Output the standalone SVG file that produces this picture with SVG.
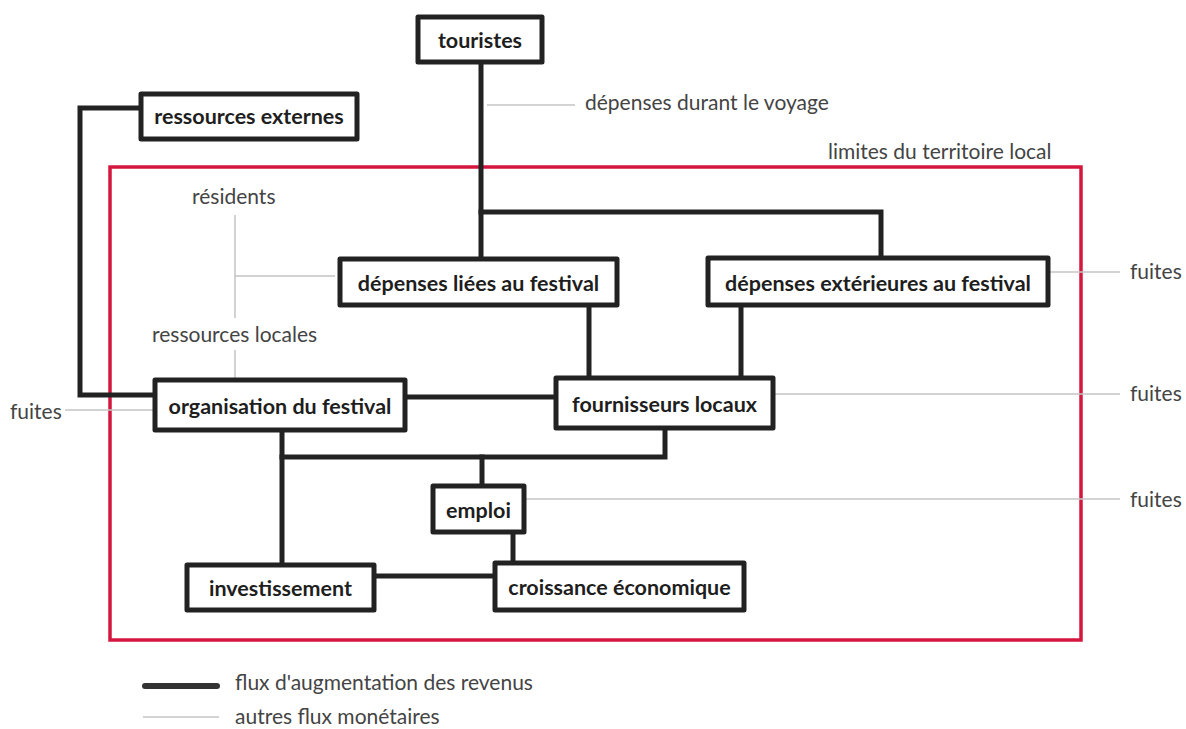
<svg xmlns="http://www.w3.org/2000/svg" width="1186" height="729" viewBox="0 0 1186 729">
<style>
.box{fill:#fff;stroke:#222;stroke-width:5;stroke-linejoin:round}
.lbl{font-family:Lato,"Open Sans",sans-serif;font-weight:bold;font-size:21.5px;fill:#1e1e1e;text-anchor:middle;dominant-baseline:central}
.txt{font-family:Lato,"Open Sans",sans-serif;font-size:21px;fill:#444}
.thick{fill:none;stroke:#222;stroke-width:5;stroke-linejoin:miter;stroke-linecap:square}
.thin{fill:none;stroke:#c4c4c4;stroke-width:1.5}
</style>
<rect x="0" y="0" width="1186" height="729" fill="#fff"/>
<rect id="territoire" x="110" y="167" width="971" height="473" fill="none" stroke="#d5173f" stroke-width="3.5"/>
<text class="txt" x="828" y="159">limites du territoire local</text>
<g id="connectors">
<path class="thin" d="M487 105 H575"/>
<path class="thin" d="M235 215 V318 M235 350 V380 M235 276 H335"/>
<path class="thin" d="M1048 272 H1120"/>
<path class="thin" d="M773 394 H1120"/>
<path class="thin" d="M65 410 H155"/>
<path class="thin" d="M524 499 H1120"/>
<path class="thick" d="M481 62 V259"/>
<path class="thick" d="M481 212 H881 V258"/>
<path class="thick" d="M141 108 H80 V395 H155"/>
<path class="thick" d="M405 397 H556"/>
<path class="thick" d="M589 305 V378"/>
<path class="thick" d="M741 305 V378"/>
<path class="thick" d="M665 428 V457 H282"/>
<path class="thick" d="M282 430 V565"/>
<path class="thick" d="M482 457 V486"/>
<path class="thick" d="M513 532 V563"/>
<path class="thick" d="M374 576 H495"/>
</g>
<g id="touristes"><rect class="box" x="418" y="17" width="124" height="45"/><text class="lbl" x="480" y="40">touristes</text></g>
<g id="ressources-externes"><rect class="box" x="141" y="94" width="216" height="45"/><text class="lbl" x="249" y="116">ressources externes</text></g>
<g id="depenses-liees"><rect class="box" x="340" y="259" width="277" height="46"/><text class="lbl" x="478.5" y="283">dépenses liées au festival</text></g>
<g id="depenses-exterieures"><rect class="box" x="708" y="258" width="340" height="47"/><text class="lbl" x="878" y="283">dépenses extérieures au festival</text></g>
<g id="organisation"><rect class="box" x="155" y="380" width="250" height="50"/><text class="lbl" x="280" y="406">organisation du festival</text></g>
<g id="fournisseurs"><rect class="box" x="556" y="378" width="217" height="50"/><text class="lbl" x="664.5" y="404">fournisseurs locaux</text></g>
<g id="emploi"><rect class="box" x="433" y="486" width="91" height="46"/><text class="lbl" x="478.5" y="510">emploi</text></g>
<g id="investissement"><rect class="box" x="187" y="565" width="187" height="45"/><text class="lbl" x="280.5" y="588">investissement</text></g>
<g id="croissance"><rect class="box" x="495" y="563" width="249" height="47"/><text class="lbl" x="619.5" y="587">croissance économique</text></g>
<g id="labels">
<text class="txt" x="585" y="110">dépenses durant le voyage</text>
<text class="txt" x="192" y="204">résidents</text>
<text class="txt" x="152" y="342">ressources locales</text>
<text class="txt" x="1130" y="279">fuites</text>
<text class="txt" x="1130" y="401">fuites</text>
<text class="txt" x="1130" y="507">fuites</text>
<text class="txt" x="10" y="419">fuites</text>
</g>
<g id="legend">
<path d="M145 686 H217" stroke="#333" stroke-width="6" stroke-linecap="round"/>
<text class="txt" x="235" y="690">flux d'augmentation des revenus</text>
<path class="thin" d="M143 717 H219"/>
<text class="txt" x="235" y="724">autres flux monétaires</text>
</g>
</svg>
